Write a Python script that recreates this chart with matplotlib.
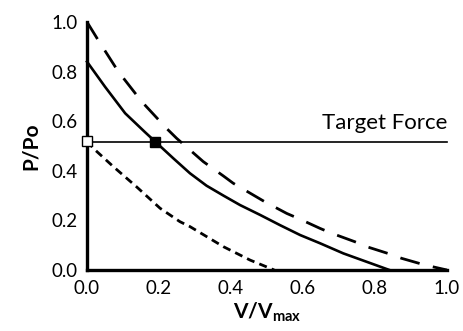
import matplotlib
matplotlib.use("Agg")
import matplotlib.pyplot as plt

plt.rcParams['font.family'] = ['Lato', 'DejaVu Sans']
plt.rcParams['mathtext.fontset'] = 'custom'
plt.rcParams['mathtext.bf'] = 'Lato:bold'
plt.rcParams['mathtext.rm'] = 'Lato'

# Long-dashed curve
x_long = [0, 0.031, 0.087, 0.152, 0.221, 0.249, 0.323, 0.379, 0.406, 0.467, 0.494,
          0.555, 0.587, 0.647, 0.68, 0.744, 0.777, 0.842, 0.874, 0.939, 1.0]
y_long = [1.0, 0.927, 0.80, 0.679, 0.571, 0.531, 0.437, 0.379, 0.35, 0.298, 0.275,
          0.228, 0.208, 0.168, 0.148, 0.114, 0.094, 0.064, 0.047, 0.020, 0.0]

# Solid curve
x_solid = [0, 0.05, 0.106, 0.161, 0.19, 0.24, 0.286, 0.332, 0.379, 0.425, 0.481,
           0.536, 0.592, 0.647, 0.712, 0.84]
y_solid = [0.84, 0.739, 0.632, 0.556, 0.517, 0.45, 0.39, 0.34, 0.30, 0.262, 0.222,
           0.181, 0.141, 0.108, 0.067, 0.0]

# Short-dashed curve
x_short = [0, 0.018, 0.073, 0.138, 0.203, 0.258, 0.286, 0.309, 0.379, 0.453, 0.52]
y_short = [0.52, 0.49, 0.417, 0.335, 0.249, 0.195, 0.175, 0.155, 0.094, 0.040, 0.0]

target_force = 0.517
open_marker = (0.0, 0.52)
filled_marker = (0.19, 0.517)

ticks = [0.0, 0.2, 0.4, 0.6, 0.8, 1.0]
tick_labels = ["0.0", "0.2", "0.4", "0.6", "0.8", "1.0"]

fig = plt.figure(figsize=(4.64, 3.31), dpi=100)
ax = fig.add_axes([87/464, 61/331, 360/464, 248/331])

ax.plot(x_long, y_long, color='black', lw=2.0, dashes=(7.2, 4.9), dash_capstyle='butt', clip_on=False)
ax.plot(x_solid, y_solid, color='black', lw=1.9, clip_on=False)
ax.plot(x_short, y_short, color='black', lw=2.0, dashes=(2.9, 1.9), dash_capstyle='butt', clip_on=False)
ax.plot([0, 1.0], [target_force, target_force], color='black', lw=1.2, clip_on=False)

ax.plot([open_marker[0]], [open_marker[1]], marker='s', ms=7, mfc='white', mec='black', mew=1.0, clip_on=False, zorder=5)
ax.plot([filled_marker[0]], [filled_marker[1]], marker='s', ms=6.5, mfc='black', mec='black', clip_on=False, zorder=5)

ax.text(1.0, target_force + 0.035, "Target Force", ha='right', va='bottom', fontsize=16)

ax.set_xlim(0, 1)
ax.set_ylim(0, 1)
ax.set_xticks(ticks)
ax.set_xticklabels(tick_labels)
ax.set_yticks(ticks)
ax.set_yticklabels(tick_labels)
ax.tick_params(length=0, labelsize=13.5, pad=7)
for s in ['top', 'right']:
    ax.spines[s].set_visible(False)
for s in ['left', 'bottom']:
    ax.spines[s].set_linewidth(2.4)

ax.set_ylabel("P/Po", fontsize=15, fontweight='bold', labelpad=7)
ax.set_xlabel(r"$\mathbf{V/V_{max}}$", fontsize=15, labelpad=3)

fig.savefig("out.png", dpi=100)
